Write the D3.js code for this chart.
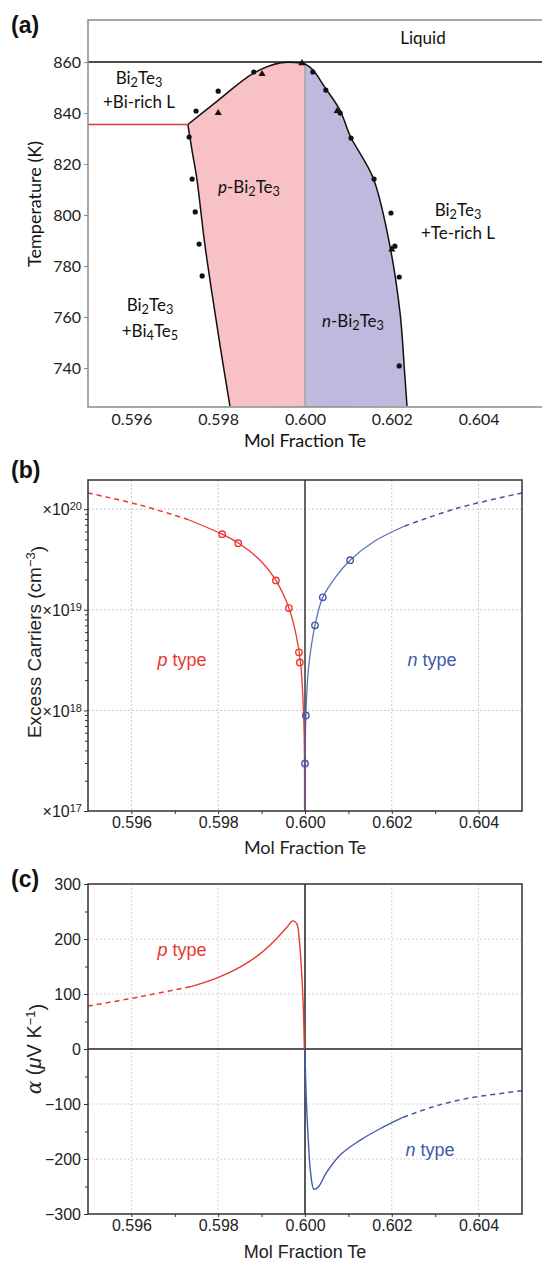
<!DOCTYPE html>
<html>
<head>
<meta charset="utf-8">
<script src="https://cdnjs.cloudflare.com/ajax/libs/d3/7.8.5/d3.min.js"></script>
<style>
  body { margin: 0; background: #fff; }
  svg { display: block; }
</style>
</head>
<body>
<svg width="542" height="1262"></svg>
<script>
// ---- data: panel (a) phase diagram ----
const xTicks = [0.596, 0.598, 0.600, 0.602, 0.604]
const xMinor = [0.597, 0.599, 0.601, 0.603]
const tempTicks = [740, 760, 780, 800, 820, 840, 860]
const pSolidus = [[0.59730, 835.5], [0.59740, 825], [0.59751, 814], [0.59768, 790], [0.59785, 770], [0.59805, 748], [0.59827, 725]]
const pLiquidus = [[0.59730, 835.5], [0.59800, 845], [0.59880, 855.5], [0.59945, 859.7], [0.60000, 859.3]]
const nLiquidus = [[0.60000, 859.3], [0.60018, 857], [0.60046, 850], [0.60081, 841], [0.60104, 831], [0.60157, 814.5], [0.60196, 787.5], [0.60219, 761.5], [0.60230, 737], [0.60235, 725]]
const eutectic = [[0.595, 835.5], [0.5973, 835.5]]
const meltLine = 860
const tempDots = [[0.59733, 830.6], [0.59740, 814.1], [0.59749, 840.8], [0.59800, 848.6], [0.59882, 856.1],
  [0.60018, 856.1], [0.60048, 849.0], [0.60081, 840.0], [0.60106, 830.2], [0.60159, 814.1],
  [0.59747, 801.2], [0.59756, 788.6], [0.59763, 776.1], [0.60198, 800.8], [0.60207, 787.8], [0.60217, 775.7], [0.60217, 740.8]]
const tempTriangles = [[0.59901, 855.3], [0.59800, 840.0], [0.59993, 859.6], [0.60074, 840.8], [0.60200, 786.5]]

// ---- data: panel (b) excess carriers ----
const carrierTicks = [1e17, 1e18, 1e19, 1e20]
const carrierTickLabels = ['17', '18', '19', '20']
const pCarrDash = [[0.5950, 1.45e20], [0.5962, 1.1e20], [0.5973, 7.9e19]]
const pCarr = [[0.5973, 7.9e19], [0.59809, 5.64e19], [0.5985, 4.5e19], [0.5990, 3.0e19], [0.59933, 1.96e19], [0.59963, 1.04e19], [0.5998, 5.5e18], [0.5999, 2.9e18], [0.59995, 1.4e18], [0.59998, 6e17], [0.59999, 1e17]]
const nCarr = [[0.60000, 1e17], [0.60000, 2.97e17], [0.60002, 8.9e17], [0.60008, 2.6e18], [0.60023, 7.0e18], [0.60041, 1.33e19], [0.6007, 2.1e19], [0.60104, 3.11e19], [0.6016, 4.8e19], [0.6023, 6.8e19]]
const nCarrDash = [[0.6023, 6.8e19], [0.6035, 1.02e20], [0.6050, 1.45e20]]
const pCarrPts = [[0.59809, 5.64e19], [0.59846, 4.59e19], [0.59933, 1.96e19], [0.59963, 1.04e19], [0.59986, 3.78e18], [0.59988, 3.0e18]]
const nCarrPts = [[0.60104, 3.11e19], [0.60041, 1.33e19], [0.60023, 7.0e18], [0.60002, 8.9e17], [0.60000, 2.97e17]]

// ---- data: panel (c) Seebeck ----
const seebeckTicks = [-300, -200, -100, 0, 100, 200, 300]
const seebeckMinor = [-250, -150, -50, 50, 150, 250]
const pSeebDash = [[0.5950, 78], [0.5962, 95], [0.59735, 113]]
const pSeeb = [[0.59735, 113], [0.597965, 129], [0.598502, 149], [0.598963, 173], [0.599348, 201], [0.599578, 221], [0.599717, 233], [0.599809, 228], [0.599869, 198], [0.599924, 137], [0.599961, 76], [0.599985, 0]]
const nSeeb = [[0.60000, 0], [0.600023, -75], [0.600076, -166], [0.600131, -226], [0.600207, -255], [0.600306, -251], [0.6005, -224], [0.600806, -193], [0.601267, -166], [0.601728, -145], [0.602265, -124]]
const nSeebDash = [[0.602265, -124], [0.602956, -105], [0.603726, -90], [0.605, -76]]

const red = '#e8392f', blue = '#4259a8'
const svg = d3.select('svg')
const L = 88, R = 522

// text with subscripts / italics: parts = [text, isSub, isItalic]
function chem(sel, parts) {
  let down = false
  parts.forEach(p => {
    const t = sel.append('tspan').text(p[0])
    if (p[1] && !down) { t.attr('dy', 3).attr('font-size', '0.75em'); down = true }
    else if (p[1]) t.attr('font-size', '0.75em')
    else if (down) { t.attr('dy', -3); down = false }
    if (p[2]) t.attr('font-style', 'italic')
  })
  return sel
}

// ================= panel (a) =================
const ga = svg.append('g')
const xa = d3.scaleLinear().domain([0.595, 0.60546]).range([L, 542])
const ya = d3.scaleLinear().domain([724.7, 876.5]).range([407, 20])
const la = d3.line().x(d => xa(d[0])).y(d => ya(d[1])).curve(d3.curveCatmullRom.alpha(0.5))
const sub = (s) => s.replace(/^M/, 'L')

// pink p-region
ga.append('path')
  .attr('d', la(pSolidus.slice().reverse()) + sub(la(pLiquidus)) + `L${xa(0.6)},${ya(724.7)}Z`)
  .attr('fill', '#f7c1c5')
// blue n-region
ga.append('path')
  .attr('d', la(nLiquidus) + `L${xa(0.6)},${ya(724.7)}Z`)
  .attr('fill', '#bebadd')
ga.append('line').attr('x1', xa(0.6)).attr('x2', xa(0.6)).attr('y1', ya(859.3)).attr('y2', ya(724.7))
  .attr('stroke', '#9a9a9a').attr('stroke-width', 1.2)
// boundaries
ga.append('path').attr('d', la(pSolidus)).attr('fill', 'none').attr('stroke', '#111').attr('stroke-width', 1.5)
ga.append('path').attr('d', la(pLiquidus) + sub(la(nLiquidus))).attr('fill', 'none').attr('stroke', '#111').attr('stroke-width', 1.5)
ga.append('line').attr('x1', xa.range()[0]).attr('x2', xa.range()[1]).attr('y1', ya(meltLine)).attr('y2', ya(meltLine))
  .attr('stroke', '#111').attr('stroke-width', 1.5)
ga.append('path').attr('d', d3.line().x(d => xa(d[0])).y(d => ya(d[1]))(eutectic))
  .attr('stroke', '#e0343a').attr('stroke-width', 1.5)

// data points
ga.selectAll('circle.dot').data(tempDots).join('circle')
  .attr('cx', d => xa(d[0])).attr('cy', d => ya(d[1])).attr('r', 2.6).attr('fill', '#111')
ga.selectAll('path.tri').data(tempTriangles).join('path')
  .attr('d', d3.symbol(d3.symbolTriangle, 22))
  .attr('transform', d => `translate(${xa(d[0])},${ya(d[1])})`).attr('fill', '#111')

// frame and axes
ga.append('rect').attr('x', L).attr('y', 20).attr('width', 542 - L + 2).attr('height', 387)
  .attr('fill', 'none').attr('stroke', '#8a8a8a').attr('stroke-width', 1.5)
ga.append('g').attr('transform', `translate(${L},0)`)
  .call(d3.axisLeft(ya).tickValues(tempTicks).tickSize(4).tickPadding(3))
  .call(g => g.select('.domain').remove())
  .call(g => g.selectAll('line').attr('stroke', '#8a8a8a'))
  .call(g => g.selectAll('text').attr('font-family', 'Lato, sans-serif').attr('font-size', 16).attr('fill', '#222'))
ga.append('g').attr('transform', `translate(0,407)`)
  .call(d3.axisBottom(xa).tickValues(xTicks).tickSize(0).tickPadding(7).tickFormat(d3.format('.3f')))
  .call(g => g.select('.domain').remove())
  .call(g => g.selectAll('text').attr('font-family', 'Lato, sans-serif').attr('font-size', 16).attr('fill', '#222'))

const ta = ga.append('g').attr('font-family', 'Lato, sans-serif').attr('font-size', 17).attr('fill', '#111').attr('text-anchor', 'middle')
ta.append('text').attr('x', 423).attr('y', 44).text('Liquid')
chem(ta.append('text').attr('x', 139).attr('y', 84), [['Bi'], ['2', 1], ['Te'], ['3', 1]])
ta.append('text').attr('x', 139).attr('y', 108).text('+Bi-rich L')
chem(ta.append('text').attr('x', 249).attr('y', 193), [['p', 0, 1], ['-Bi'], ['2', 1], ['Te'], ['3', 1]])
chem(ta.append('text').attr('x', 458).attr('y', 216), [['Bi'], ['2', 1], ['Te'], ['3', 1]])
ta.append('text').attr('x', 458).attr('y', 239).text('+Te-rich L')
chem(ta.append('text').attr('x', 150).attr('y', 311), [['Bi'], ['2', 1], ['Te'], ['3', 1]])
chem(ta.append('text').attr('x', 150).attr('y', 337), [['+Bi'], ['4', 1], ['Te'], ['5', 1]])
chem(ta.append('text').attr('x', 353).attr('y', 327), [['n', 0, 1], ['-Bi'], ['2', 1], ['Te'], ['3', 1]])
ta.append('text').attr('transform', 'translate(41,204) rotate(-90)').attr('font-size', 18).text('Temperature (K)')
ta.append('text').attr('x', 305).attr('y', 447).attr('font-size', 18).text('Mol Fraction Te')

// ================= panel (b) =================
const gb = svg.append('g')
const xb = d3.scaleLinear().domain([0.595, 0.605]).range([L, R])
const yb = d3.scaleLog().domain([1e17, 1.95e20]).range([811, 480])
const lb = d3.line().x(d => xb(d[0])).y(d => yb(d[1])).curve(d3.curveCatmullRom.alpha(0.5))

gb.append('g').selectAll('line').data(xTicks.filter(d => d !== 0.6)).join('line')
  .attr('x1', d => xb(d)).attr('x2', d => xb(d)).attr('y1', 480).attr('y2', 811)
  .attr('stroke', '#c8c8c8').attr('stroke-dasharray', '2,2')
gb.append('g').selectAll('line').data(carrierTicks.slice(1)).join('line')
  .attr('x1', L).attr('x2', R).attr('y1', d => yb(d)).attr('y2', d => yb(d))
  .attr('stroke', '#c8c8c8').attr('stroke-dasharray', '2,2')
gb.append('line').attr('x1', xb(0.6)).attr('x2', xb(0.6)).attr('y1', 480).attr('y2', 811)
  .attr('stroke', '#333').attr('stroke-width', 1.5)

gb.append('path').attr('d', lb(pCarrDash)).attr('fill', 'none').attr('stroke', red).attr('stroke-width', 1.5).attr('stroke-dasharray', '5,4')
gb.append('path').attr('d', lb(pCarr)).attr('fill', 'none').attr('stroke', red).attr('stroke-width', 1.3)
gb.append('path').attr('d', lb(nCarr)).attr('fill', 'none').attr('stroke', blue).attr('stroke-width', 1.3).attr('stroke-opacity', 0.85)
gb.append('path').attr('d', lb(nCarrDash)).attr('fill', 'none').attr('stroke', blue).attr('stroke-width', 1.5).attr('stroke-dasharray', '5,4')
gb.selectAll('circle.p').data(pCarrPts).join('circle')
  .attr('cx', d => xb(d[0])).attr('cy', d => yb(d[1])).attr('r', 3.2)
  .attr('fill', 'none').attr('stroke', red).attr('stroke-width', 1.4)
gb.selectAll('circle.n').data(nCarrPts).join('circle')
  .attr('cx', d => xb(d[0])).attr('cy', d => yb(d[1])).attr('r', 3.2)
  .attr('fill', 'none').attr('stroke', blue).attr('stroke-width', 1.4)

gb.append('rect').attr('x', L).attr('y', 480).attr('width', R - L).attr('height', 331)
  .attr('fill', 'none').attr('stroke', '#333').attr('stroke-width', 1.5)
const minorLog = []
carrierTicks.forEach(t => d3.range(2, 10).forEach(k => { if (t * k < 1.95e20) minorLog.push(t * k) }))
gb.append('g').attr('transform', `translate(${L},0)`)
  .call(d3.axisLeft(yb).tickValues(minorLog).tickSize(3).tickFormat(''))
  .call(g => g.select('.domain').remove())
  .call(g => g.selectAll('line').attr('stroke', '#333'))
const yAxB = gb.append('g').attr('transform', `translate(${L},0)`)
  .call(d3.axisLeft(yb).tickValues(carrierTicks).tickSize(4).tickPadding(4).tickFormat(''))
  .call(g => g.select('.domain').remove())
  .call(g => g.selectAll('line').attr('stroke', '#333'))
yAxB.selectAll('.tick').append('text')
  .attr('x', -6).attr('dy', '0.35em').attr('text-anchor', 'end').attr('fill', '#222')
  .attr('font-family', 'Liberation Sans, Arial, sans-serif').attr('font-size', 16)
  .each(function (d, i) {
    const t = d3.select(this)
    t.append('tspan').text('×10')
    t.append('tspan').attr('dy', '-0.45em').attr('font-size', 11).text(carrierTickLabels[i])
  })
gb.append('g').attr('transform', `translate(0,811)`)
  .call(d3.axisBottom(xb).tickValues(xMinor).tickSize(3).tickFormat(''))
  .call(g => g.select('.domain').remove())
  .call(g => g.selectAll('line').attr('stroke', '#333'))
gb.append('g').attr('transform', `translate(0,811)`)
  .call(d3.axisBottom(xb).tickValues(xTicks).tickSize(3).tickPadding(3).tickFormat(d3.format('.3f')))
  .call(g => g.select('.domain').remove())
  .call(g => g.selectAll('line').attr('stroke', '#333'))
  .call(g => g.selectAll('text').attr('font-family', 'Liberation Sans, Arial, sans-serif').attr('font-size', 16).attr('fill', '#222'))

const tb = gb.append('g').attr('font-family', 'Liberation Sans, Arial, sans-serif').attr('font-size', 18).attr('text-anchor', 'middle')
chem(tb.append('text').attr('x', 182).attr('y', 666).attr('fill', red), [['p', 0, 1], [' type']])
chem(tb.append('text').attr('x', 432).attr('y', 666).attr('fill', blue), [['n', 0, 1], [' type']])
const ylb = tb.append('text').attr('transform', 'translate(41,642) rotate(-90)').attr('fill', '#222').attr('font-size', 19)
ylb.append('tspan').text('Excess Carriers (cm')
ylb.append('tspan').attr('dy', '-0.45em').attr('font-size', 13).text('−3')
ylb.append('tspan').attr('dy', '0.45em').text(')')
gb.append('text').attr('x', 305).attr('y', 854).attr('text-anchor', 'middle').attr('fill', '#222')
  .attr('font-family', 'Lato, sans-serif').attr('font-size', 18).text('Mol Fraction Te')

// ================= panel (c) =================
const gc = svg.append('g')
const yc = d3.scaleLinear().domain([-300, 300]).range([1214, 884])
const lc = d3.line().x(d => xb(d[0])).y(d => yc(d[1])).curve(d3.curveCatmullRom.alpha(0.5))

gc.append('g').selectAll('line').data(xTicks.filter(d => d !== 0.6)).join('line')
  .attr('x1', d => xb(d)).attr('x2', d => xb(d)).attr('y1', 884).attr('y2', 1214)
  .attr('stroke', '#d4d4d4').attr('stroke-dasharray', '2,2')
gc.append('g').selectAll('line').data(seebeckTicks.filter(d => d !== 0 && Math.abs(d) < 300)).join('line')
  .attr('x1', L).attr('x2', R).attr('y1', d => yc(d)).attr('y2', d => yc(d))
  .attr('stroke', '#d4d4d4').attr('stroke-dasharray', '2,2')
gc.append('line').attr('x1', L).attr('x2', R).attr('y1', yc(0)).attr('y2', yc(0)).attr('stroke', '#222').attr('stroke-width', 1.5)
gc.append('line').attr('x1', xb(0.6)).attr('x2', xb(0.6)).attr('y1', 884).attr('y2', 1214).attr('stroke', '#222').attr('stroke-width', 1.5)

gc.append('path').attr('d', lc(pSeebDash)).attr('fill', 'none').attr('stroke', red).attr('stroke-width', 1.5).attr('stroke-dasharray', '5,4')
gc.append('path').attr('d', lc(pSeeb)).attr('fill', 'none').attr('stroke', red).attr('stroke-width', 1.4)
gc.append('path').attr('d', lc(nSeeb)).attr('fill', 'none').attr('stroke', blue).attr('stroke-width', 1.4)
gc.append('path').attr('d', lc(nSeebDash)).attr('fill', 'none').attr('stroke', blue).attr('stroke-width', 1.5).attr('stroke-dasharray', '5,4')

gc.append('rect').attr('x', L).attr('y', 884).attr('width', R - L).attr('height', 330)
  .attr('fill', 'none').attr('stroke', '#333').attr('stroke-width', 1.5)
gc.append('g').attr('transform', `translate(${L},0)`)
  .call(d3.axisLeft(yc).tickValues(seebeckMinor).tickSize(3).tickFormat(''))
  .call(g => g.select('.domain').remove())
  .call(g => g.selectAll('line').attr('stroke', '#333'))
gc.append('g').attr('transform', `translate(${L},0)`)
  .call(d3.axisLeft(yc).tickValues(seebeckTicks).tickSize(4).tickPadding(3).tickFormat(d3.format('d')))
  .call(g => g.select('.domain').remove())
  .call(g => g.selectAll('line').attr('stroke', '#333'))
  .call(g => g.selectAll('text').attr('font-family', 'Liberation Sans, Arial, sans-serif').attr('font-size', 16).attr('fill', '#222'))
gc.append('g').attr('transform', `translate(0,1214)`)
  .call(d3.axisBottom(xb).tickValues(xMinor).tickSize(3).tickFormat(''))
  .call(g => g.select('.domain').remove())
  .call(g => g.selectAll('line').attr('stroke', '#333'))
gc.append('g').attr('transform', `translate(0,1214)`)
  .call(d3.axisBottom(xb).tickValues(xTicks).tickSize(3).tickPadding(3).tickFormat(d3.format('.3f')))
  .call(g => g.select('.domain').remove())
  .call(g => g.selectAll('line').attr('stroke', '#333'))
  .call(g => g.selectAll('text').attr('font-family', 'Liberation Sans, Arial, sans-serif').attr('font-size', 16).attr('fill', '#222'))

const tc = gc.append('g').attr('font-family', 'Liberation Sans, Arial, sans-serif').attr('font-size', 18).attr('text-anchor', 'middle')
chem(tc.append('text').attr('x', 182).attr('y', 956).attr('fill', red), [['p', 0, 1], [' type']])
chem(tc.append('text').attr('x', 430).attr('y', 1156).attr('fill', blue), [['n', 0, 1], [' type']])
const ylc = tc.append('text').attr('transform', 'translate(41,1049) rotate(-90)').attr('fill', '#222').attr('font-size', 20)
ylc.append('tspan').attr('font-family', 'DejaVu Serif, serif').attr('font-style', 'italic').text('α')
ylc.append('tspan').text(' (')
ylc.append('tspan').attr('font-style', 'italic').text('μ')
ylc.append('tspan').text('V K')
ylc.append('tspan').attr('dy', '-0.45em').attr('font-size', 13).text('−1')
ylc.append('tspan').attr('dy', '0.45em').text(')')
gc.append('text').attr('x', 305).attr('y', 1258).attr('text-anchor', 'middle').attr('fill', '#222')
  .attr('font-family', 'Liberation Sans, Arial, sans-serif').attr('font-size', 18).text('Mol Fraction Te')

// panel letters
svg.append('g').attr('font-family', 'Liberation Sans, Arial, sans-serif').attr('font-weight', 'bold').attr('font-size', 23).attr('fill', '#111')
  .selectAll('text').data([['(a)', 33], ['(b)', 478], ['(c)', 887]]).join('text')
  .attr('x', 11).attr('y', d => d[1]).text(d => d[0])
</script>
</body>
</html>
